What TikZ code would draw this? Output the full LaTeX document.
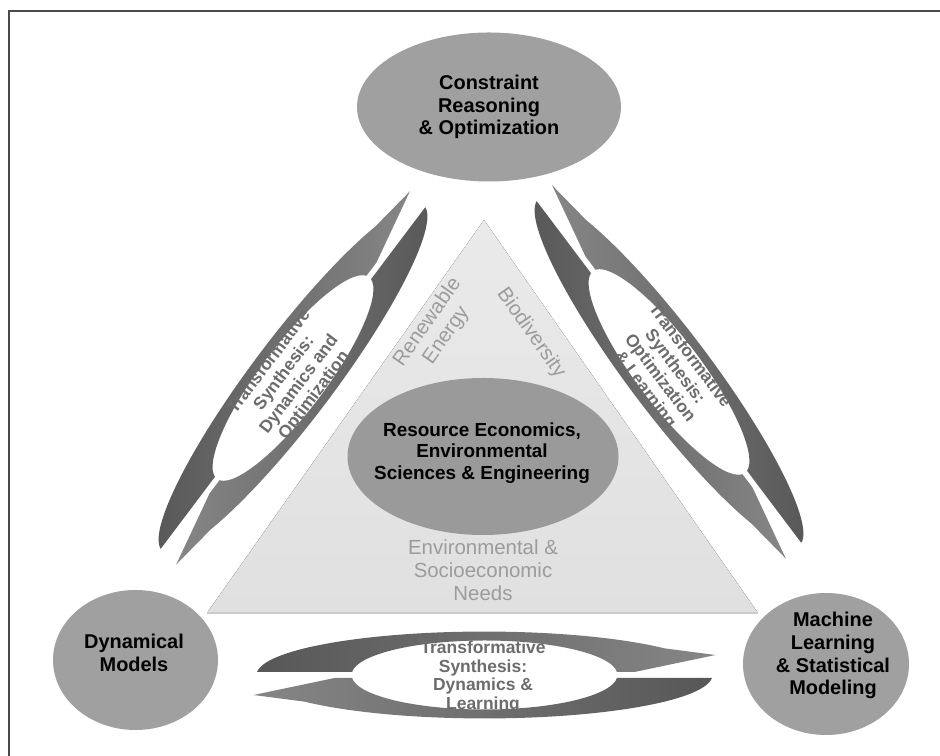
\documentclass[tikz,border=0pt]{standalone}
\usepackage{fontspec}
\setmainfont{Liberation Sans}
\usetikzlibrary{shapes.geometric}
\definecolor{nodegray}{HTML}{A0A0A0}
\definecolor{centergray}{HTML}{9A9A9A}
\definecolor{tritop}{HTML}{EAEAEA}
\definecolor{tribot}{HTML}{E0E0E0}
\definecolor{baselinegray}{HTML}{CBCBCB}
\definecolor{darkband}{HTML}{575757}
\definecolor{lightband}{HTML}{868686}
\definecolor{labelgray}{HTML}{9C9C9C}
\definecolor{ringtext}{HTML}{6C6C6C}
\definecolor{framecol}{HTML}{4A4A4A}
\newcommand{\ringarrows}[4]{%
  \path[left color=#1, right color=#2]
    (-227.4,3) arc[start angle=175.96, end angle=37.9, x radius=228, y radius=43.5]
    -- (231,20) -- (150,3) -- (132.5,3)
    arc[start angle=4.99, end angle=175.01, x radius=133, y radius=34.5] -- cycle;
  \path[left color=#3, right color=#4]
    (227.4,-3) arc[start angle=355.96, end angle=217.9, x radius=228, y radius=43.5]
    -- (-231,-20) -- (-150,-3) -- (-132.5,-3)
    arc[start angle=184.99, end angle=355.01, x radius=133, y radius=34.5] -- cycle;
}
\tikzset{
  bigell/.style={ellipse, fill=nodegray, draw=none, inner sep=0pt},
  boldlabel/.style={align=center, font=\bfseries\fontsize{20}{22.3}\selectfont, text=black, inner sep=0pt},
  greylabel/.style={align=center, font=\fontsize{20.5}{22.9}\selectfont, text=labelgray, inner sep=0pt},
  ringlabel/.style={align=center, font=\bfseries\fontsize{17.5}{18.8}\selectfont, text=ringtext, inner sep=0pt}
}
\begin{document}
\begin{tikzpicture}[x=1bp, y=1bp]
\useasboundingbox (0,0) rectangle (940,756);
\fill[white] (0,0) rectangle (940,756);
% frame (left and top edges only)
\draw[framecol, line width=1.5bp] (9,-10) -- (9,745) -- (950,745);
% triangle
\coordinate (triL) at (207,143);
\coordinate (triT) at (484,536);
\coordinate (triR) at (758,143);
\fill[top color=tritop, bottom color=tribot] (triL) -- (triT) -- (triR) -- cycle;
\draw[baselinegray, line width=1.2bp] (triL) -- (triR);
% rings
\begin{scope}[shift={(293,378)}, rotate=53, scale=0.95]
  \ringarrows{darkband}{lightband}{lightband}{darkband}
\end{scope}
\begin{scope}[shift={(669,384)}, xscale=-1, rotate=53, scale=0.95]
  \ringarrows{lightband}{darkband}{darkband}{lightband}
\end{scope}
\begin{scope}[shift={(484.5,81)}]
  \ringarrows{darkband}{lightband}{lightband}{darkband}
\end{scope}
% ellipses
\node[bigell, minimum width=264bp, minimum height=149bp] (cro) at (489,649) {};
\node[bigell, fill=centergray, minimum width=271bp, minimum height=157bp] (res) at (483,299.5) {};
\node[bigell, minimum width=165bp, minimum height=140bp] (dyn) at (135.5,96) {};
\node[bigell, minimum width=166bp, minimum height=142bp] (mls) at (826,92) {};
% labels
\node[boldlabel] (crot) at (489,649) {Constraint\\Reasoning\\\& Optimization};
\node[boldlabel, font=\bfseries\fontsize{19}{21.3}\selectfont] (rest) at (482,303) {Resource Economics,\\Environmental\\Sciences \& Engineering};
\node[boldlabel, font=\bfseries\fontsize{20}{23}\selectfont] (dynt) at (134,103) {Dynamical\\Models};
\node[boldlabel, font=\bfseries\fontsize{20}{23}\selectfont] (mlst) at (833,100.5) {Machine\\Learning\\\& Statistical\\Modeling};
\node[greylabel] (envt) at (483,186) {Environmental \&\\Socioeconomic\\Needs};
\node[greylabel, rotate=55] (rent) at (437,427) {Renewable\\Energy};
\node[greylabel, rotate=-55] (biot) at (531,423) {Biodiversity};
\node[ringlabel, rotate=53] (ldo) at (292,377) {Transformative\\Synthesis:\\Dynamics and\\Optimization};
\node[ringlabel, rotate=-53] (rol) at (667,383) {Transformative\\Synthesis:\\Optimization\\\& Learning};
\node[ringlabel] (bdl) at (483,79) {Transformative\\Synthesis:\\Dynamics \&\\Learning};
\end{tikzpicture}
\end{document}
